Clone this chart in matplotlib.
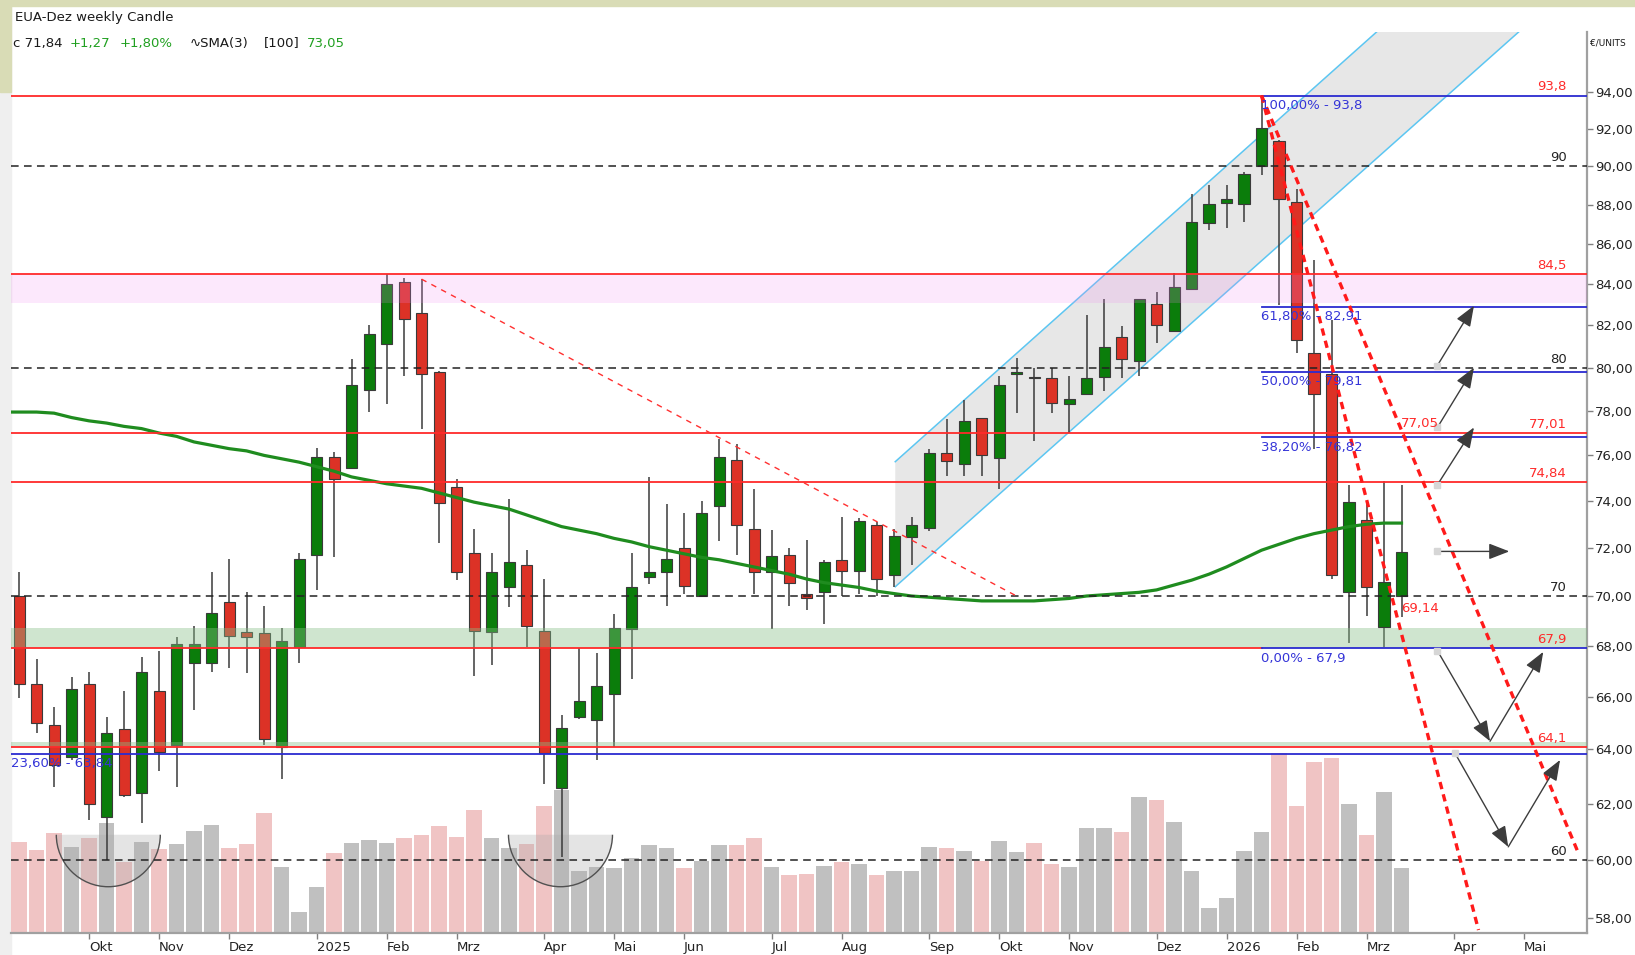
import matplotlib
matplotlib.use('Agg')
import matplotlib.pyplot as plt
import matplotlib.transforms as mtransforms
from matplotlib.patches import Wedge, Arc, Rectangle, Polygon
from matplotlib.ticker import FixedLocator, NullLocator, NullFormatter, FuncFormatter
import numpy as np
import pandas as pd

# ── Daten (Wochenkerzen EUA Dez, ab KW 02.09.2024) ──────────────────────────
START = '2024-09-02'
opens = [70.0, 66.5, 64.9, 63.7, 66.5, 61.5, 64.75, 62.4, 66.2, 64.15,
         67.3, 67.3, 69.75, 68.55, 68.5, 64.1, 67.95, 71.7, 75.95, 75.45,
         78.95, 81.1, 84.1, 82.6, 79.8, 74.6, 71.8, 68.55, 70.35, 71.3,
         68.6, 62.55, 65.2, 65.1, 66.1, 68.65, 70.8, 71.0, 72.0, 70.0,
         73.8, 75.8, 72.8, 71.0, 71.7, 70.1, 70.15, 71.5, 71.05, 72.95,
         70.85, 72.45, 72.85, 76.1, 75.6, 77.7, 75.9, 79.7, 79.55, 79.5,
         78.3, 78.8, 79.55, 81.45, 80.3, 83.05, 81.75, 83.75, 87.05, 88.1,
         88.05, 90.0, 91.35, 88.15, 80.7, 79.7, 70.15, 73.2, 68.75, 70.0]
highs = [71.0, 67.45, 65.6, 66.75, 66.95, 65.2, 66.2, 67.55, 67.8, 68.35,
         68.8, 71.0, 71.55, 70.15, 69.6, 68.7, 71.8, 76.35, 76.15, 80.4,
         82.0, 84.5, 84.3, 84.25, 79.85, 74.95, 72.8, 71.8, 74.1, 71.9,
         70.7, 65.3, 67.9, 67.7, 69.25, 71.8, 75.05, 73.85, 73.5, 74.0,
         76.75, 76.5, 74.5, 72.75, 72.0, 72.35, 71.5, 73.3, 73.25, 73.1,
         72.8, 73.3, 76.3, 77.65, 78.5, 77.7, 79.6, 80.45, 80.0, 80.0,
         79.6, 82.5, 83.3, 81.95, 83.3, 83.6, 84.55, 88.55, 89.0, 89.0,
         89.7, 93.8, 91.4, 88.8, 85.2, 82.25, 74.7, 73.85, 74.85, 74.7]
lows = [65.95, 64.6, 62.6, 63.6, 61.4, 60.0, 62.25, 61.3, 63.2, 62.6,
        65.5, 66.95, 67.1, 66.9, 64.15, 62.9, 67.3, 70.25, 71.6, 75.4,
        77.95, 78.3, 79.6, 77.2, 72.2, 70.65, 66.8, 67.25, 69.55, 67.95,
        62.7, 60.1, 65.15, 63.6, 64.1, 66.7, 70.5, 69.6, 70.1, 70.0,
        72.3, 71.7, 70.1, 68.65, 69.6, 69.45, 68.85, 70.0, 70.1, 70.0,
        70.35, 71.3, 72.7, 75.1, 75.1, 75.1, 74.5, 77.9, 76.65, 77.9,
        77.0, 78.8, 78.9, 79.5, 79.6, 81.15, 81.7, 83.75, 86.7, 86.8,
        87.1, 89.55, 83.0, 80.7, 76.3, 70.7, 68.1, 69.2, 67.95, 69.14]
closes = [66.5, 65.0, 63.4, 66.3, 62.0, 64.6, 62.3, 66.95, 63.9, 68.05,
          68.05, 69.3, 68.4, 68.35, 64.4, 68.2, 71.55, 75.95, 74.95, 79.2,
          81.6, 84.0, 82.3, 79.7, 73.9, 71.0, 68.6, 71.0, 71.4, 68.8,
          63.85, 64.8, 65.85, 66.4, 68.7, 70.35, 71.0, 71.55, 70.4, 73.5,
          75.95, 72.95, 71.0, 71.65, 70.55, 69.9, 71.4, 71.05, 73.15, 70.7,
          72.5, 72.95, 76.1, 75.75, 77.55, 76.0, 79.2, 79.8, 79.5, 78.35,
          78.55, 79.5, 80.95, 80.4, 83.3, 82.0, 83.85, 87.1, 88.05, 88.3,
          89.6, 92.05, 88.3, 81.3, 78.8, 70.85, 73.95, 70.35, 70.57, 71.84]
volumes = [91, 83, 100, 86, 95, 110, 71, 91, 84, 89,
           102, 108, 85, 89, 120, 66, 21, 46, 80, 90,
           93, 90, 95, 98, 107, 96, 123, 95, 85, 89,
           127, 143, 62, 66, 65, 75, 88, 85, 65, 72,
           88, 88, 95, 66, 58, 59, 67, 71, 69, 58,
           62, 62, 86, 85, 82, 72, 92, 81, 90, 69,
           66, 105, 105, 101, 136, 133, 111, 62, 25, 35,
           82, 101, 180, 127, 171, 175, 129, 98, 141, 65]
sma100 = [77.95, 77.95, 77.9, 77.7, 77.55, 77.45, 77.3, 77.2, 77.0, 76.85,
          76.6, 76.45, 76.3, 76.2, 76.0, 75.85, 75.7, 75.5, 75.3, 75.05,
          74.9, 74.75, 74.65, 74.55, 74.35, 74.15, 73.95, 73.8, 73.65, 73.4,
          73.15, 72.9, 72.75, 72.6, 72.4, 72.25, 72.05, 71.9, 71.75, 71.6,
          71.5, 71.35, 71.2, 71.05, 70.9, 70.7, 70.55, 70.45, 70.35, 70.2,
          70.1, 70.0, 69.95, 69.9, 69.85, 69.8, 69.8, 69.8, 69.8, 69.85,
          69.9, 70.0, 70.05, 70.1, 70.15, 70.25, 70.45, 70.65, 70.9, 71.2,
          71.55, 71.9, 72.15, 72.4, 72.6, 72.75, 72.9, 73.0, 73.05, 73.05]

MONATE = ['Jan', 'Feb', 'Mrz', 'Apr', 'Mai', 'Jun',
          'Jul', 'Aug', 'Sep', 'Okt', 'Nov', 'Dez']

# Linien / Zonen
red_levels = [93.8, 84.5, 77.01, 74.84, 67.9, 64.1]
round_levels = [90, 80, 70, 60]
fib_start = 71                       # Hochpunkt-Woche
fib_pcts = [100.0, 61.8, 50.0, 38.2, 0.0]
fib_levels = [93.8, 82.91, 79.81, 76.82, 67.9]
ext_pct, ext_level = 23.6, 63.84
zonen = [(83.1, 84.5, '#f08cf0', 0.2), (67.9, 68.72, '#87be87', 0.4),
         (64.1, 64.28, '#87be87', 0.4)]

# Aufwärtskanal (Woche, Preis)
kanal_oben = [(50.07, 75.72), (77.63, 97.4)]
kanal_unten = [(50.07, 70.38), (85.75, 97.4)]

# Trendlinien
trend_duenn = [(23, 84.25), (57, 70.0)]
trend_dick = [[(71, 93.8), (83.4, 57.58)],
              [(71, 93.8), (89.06, 60.3)]]

# Szenario-Pfeile
pfeile = [((81.05, 80.1), (83.14, 82.95)),
          ((81.05, 77.25), (83.14, 80.0)),
          ((81.05, 74.7), (83.14, 77.25)),
          ((81.05, 71.85), (85.16, 71.85)),
          ((81.05, 67.8), (84.06, 64.3)),
          ((84.06, 64.3), (87.1, 67.75)),
          ((82.06, 63.85), (85.1, 60.45)),
          ((85.1, 60.45), (88.06, 63.6))]
pfeil_starts = [(81.05, 80.1), (81.05, 77.25), (81.05, 74.7),
                (81.05, 71.85), (81.05, 67.8), (82.06, 63.85)]
schalen = [(5.1, 60.88), (30.94, 60.88)]   # Halbkreise (Boden)

W, H = 1635, 955
XLIM = (-0.46, 89.6)
YLIM = (57.48, 97.35)


def de(v):
    return str(v).replace('.', ',')


def main():
    n = len(opens)
    idx = np.arange(n)
    o, h, l, c = (np.array(a) for a in (opens, highs, lows, closes))
    up = c >= o

    fig = plt.figure(figsize=(W / 100, H / 100), dpi=100)
    fig.patch.set_facecolor('white')
    rect = [11 / W, 1 - 933 / H, (1587 - 11) / W, (933 - 32) / H]

    # Rahmenstreifen
    fig.patches.append(Rectangle((0, 0), 11 / W, 1, transform=fig.transFigure,
                                 color='#efefef', zorder=-5))
    fig.patches.append(Rectangle((0, 1 - 92 / H), 11 / W, 92 / H,
                                 transform=fig.transFigure, color='#d9dcb6', zorder=-4))
    fig.patches.append(Rectangle((0, 1 - 6 / H), 1, 6 / H,
                                 transform=fig.transFigure, color='#d9dcb6', zorder=-4))

    # ── Volumen (Hintergrund-Achse) ───────────────────────────────────────
    ax_v = fig.add_axes(rect, zorder=0)
    ax_v.bar(idx, volumes, width=0.9,
             color=np.where(up, '#c0c0c0', '#f0c4c4'), linewidth=0)
    ax_v.set_xlim(*XLIM)
    ax_v.set_ylim(0, 901)
    ax_v.axis('off')

    ax = fig.add_axes(rect, zorder=1)
    ax.patch.set_alpha(0)
    ax.set_yscale('log')
    ax.set_xlim(*XLIM)
    ax.set_ylim(*YLIM)

    # Zonen
    for lo, hi, col, al in zonen:
        ax.axhspan(lo, hi, color=col, alpha=al, lw=0, zorder=4)

    # Kanal
    poly = [kanal_oben[0], kanal_oben[1], kanal_unten[1], kanal_unten[0]]
    ax.add_patch(Polygon(poly, closed=True, facecolor='#c4c4c4', alpha=0.4,
                         lw=0, zorder=1))
    for ln in (kanal_oben, kanal_unten):
        ax.plot([p[0] for p in ln], [p[1] for p in ln], color='#5cc6f2',
                lw=1.1, zorder=2)

    # Halbkreise
    for cx, cy in schalen:
        tr = fig.dpi_scale_trans + mtransforms.ScaledTranslation(cx, cy, ax.transData)
        ax.add_patch(Wedge((0, 0), 0.52, 180, 360, transform=tr,
                           facecolor='#a8a8a8', alpha=0.3, lw=0, zorder=1.5))
        ax.add_patch(Arc((0, 0), 1.04, 1.04, theta1=180, theta2=360,
                         transform=tr, color='#505050', lw=1.0, zorder=1.6))

    # Kerzen
    ax.vlines(idx, l, h, color='#3a3a3a', lw=1.1, zorder=3)
    bottom = np.minimum(o, c)
    height = np.maximum(np.abs(c - o), 0.06)
    ax.bar(idx, height, bottom=bottom, width=0.63,
           color=np.where(up, '#0b7d0b', '#dc3226'),
           edgecolor='#3a3a3a', linewidth=0.8, zorder=3.2)

    # SMA (beginnt am linken Rand)
    ax.plot(np.r_[XLIM[0], idx], np.r_[sma100[0], sma100],
            color='#1f8c1f', lw=2.3, zorder=5)

    # Horizontale Linien
    for lv in red_levels:
        x_end = fib_start if lv in fib_levels else XLIM[1]
        ax.plot([XLIM[0], x_end], [lv, lv], color='#ff2a2a', lw=1.3, zorder=6)
        ax.annotate(de(lv), xy=(0.987, lv), xycoords=ax.get_yaxis_transform(),
                    xytext=(0, 1.5), textcoords='offset points', ha='right',
                    va='bottom', color='#ff2a2a', fontsize=9.5, zorder=8)
    for lv in round_levels:
        ax.axhline(lv, color='#222222', lw=1.1, ls=(0, (5, 3.5)), zorder=6)
        ax.annotate(str(lv), xy=(0.987, lv), xycoords=ax.get_yaxis_transform(),
                    xytext=(0, 1.5), textcoords='offset points', ha='right',
                    va='bottom', color='#222222', fontsize=9.5, zorder=8)

    # Fibonacci
    for pct, lv in zip(fib_pcts, fib_levels):
        ax.plot([fib_start, XLIM[1]], [lv, lv], color='#2b2bd0', lw=1.3, zorder=6.5)
        ax.annotate(f"{pct:.2f}%".replace('.', ',') + ' - ' + de(lv),
                    xy=(fib_start - 0.05, lv), xytext=(0, -2.5),
                    textcoords='offset points', ha='left', va='top',
                    color='#3535d8', fontsize=9.5, zorder=8)
    ax.axhline(ext_level, color='#2b2bd0', lw=1.3, zorder=6.5)
    ax.annotate(f"{ext_pct:.2f}%".replace('.', ',') + ' - ' + de(ext_level),
                xy=(0.0, ext_level), xycoords=ax.get_yaxis_transform(),
                xytext=(0, -2.5), textcoords='offset points', ha='left',
                va='top', color='#3535d8', fontsize=9.5, zorder=8)

    # Trendlinien
    ax.plot([p[0] for p in trend_duenn], [p[1] for p in trend_duenn],
            color='#ff3030', lw=1.0, ls=(0, (4, 4)), zorder=6)
    for ln in trend_dick:
        ax.plot([p[0] for p in ln], [p[1] for p in ln], color='#ff1a1a',
                lw=2.4, ls=(0, (2.2, 1.6)), zorder=7)
    ax.text(78.95, 77.45, '77,05', color='#ff2a2a', fontsize=9.5,
            va='center', ha='left', zorder=8)
    ax.text(78.95, 69.5, '69,14', color='#ff2a2a', fontsize=9.5,
            va='center', ha='left', zorder=8)

    # Pfeile
    for start, end in pfeile:
        ax.annotate('', xy=end, xytext=start, zorder=7,
                    arrowprops=dict(arrowstyle='-|>,head_length=0.9,head_width=0.35',
                                    color='#3c3c3c', lw=1.0,
                                    shrinkA=0, shrinkB=0, mutation_scale=14))
    ax.plot([p[0] for p in pfeil_starts], [p[1] for p in pfeil_starts], 's',
            ms=4.5, color='#d6d6d6', zorder=7.5)

    # ── Achsen ────────────────────────────────────────────────────────────
    start = pd.Timestamp(START)
    ticks, labels = [], []
    for m in pd.date_range('2024-09-01', '2026-06-01', freq='MS'):
        pos = (m - start).days // 7
        if XLIM[0] <= pos <= XLIM[1]:
            ticks.append(pos)
            labels.append(str(m.year) if m.month == 1 else MONATE[m.month - 1])
    ax.set_xticks(ticks)
    ax.set_xticklabels(labels, ha='left', fontsize=9.5, color='#222222')

    ax.yaxis.tick_right()
    ax.yaxis.set_major_locator(FixedLocator(np.arange(58, 95, 2)))
    ax.yaxis.set_major_formatter(FuncFormatter(lambda v, _: f"{v:.2f}".replace('.', ',')))
    ax.yaxis.set_minor_locator(NullLocator())
    ax.yaxis.set_minor_formatter(NullFormatter())
    ax.tick_params(axis='y', direction='out', length=4, width=1, color='#808080',
                   labelsize=9.5, labelcolor='#222222', pad=2)
    ax.tick_params(axis='x', direction='out', length=4, width=1, color='#808080',
                   pad=2)
    for s in ('top', 'left'):
        ax.spines[s].set_visible(False)
    for s in ('right', 'bottom'):
        ax.spines[s].set_color('#a0a0a0')
        ax.spines[s].set_linewidth(1.6)

    # ── Kopfzeile ─────────────────────────────────────────────────────────
    y1 = 1 - 17 / H
    y2 = 1 - 43 / H
    fig.text(15 / W, y1, 'EUA-Dez weekly Candle', fontsize=9.5, va='center',
             color='#1a1a1a')
    gruen = '#21a021'
    for x, txt, col in [(13, 'c 71,84', '#1a1a1a'), (70, '+1,27', gruen),
                        (120, '+1,80%', gruen), (190, '∿SMA(3)', '#1a1a1a'),
                        (264, '[100]', '#1a1a1a'), (307, '73,05', gruen)]:
        fig.text(x / W, y2, txt, fontsize=9.5, va='center', color=col)
    fig.text(1590 / W, 1 - 43 / H, '€/UNITS', fontsize=6.5, va='center',
             color='#1a1a1a')

    fig.savefig('out.png', dpi=100, facecolor='white')


if __name__ == '__main__':
    main()
